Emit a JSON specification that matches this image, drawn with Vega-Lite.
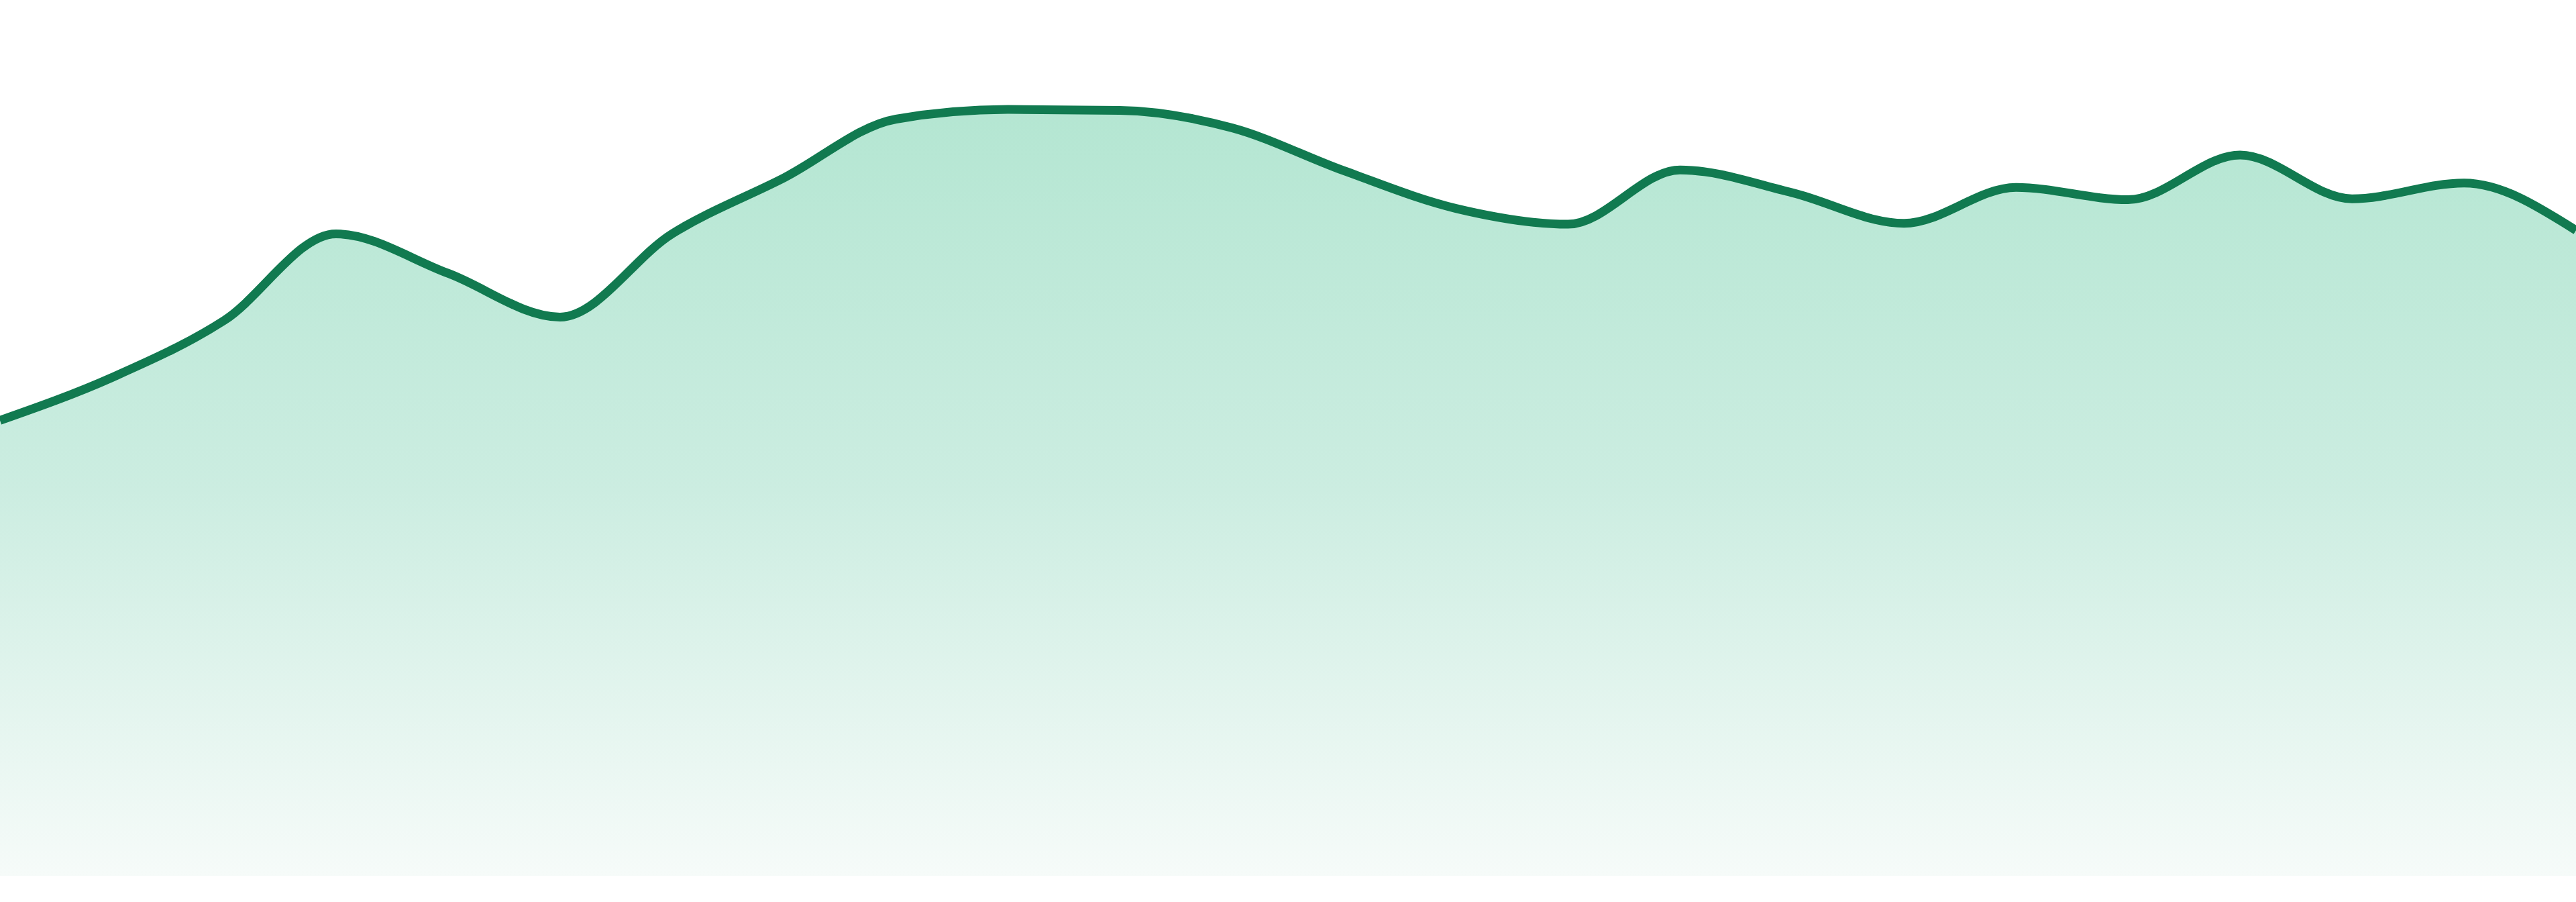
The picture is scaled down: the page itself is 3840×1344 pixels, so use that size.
{
  "$schema": "https://vega.github.io/schema/vega-lite/v6.json",
  "width": 3840,
  "height": 1344,
  "autosize": {"type": "none"},
  "padding": 0,
  "background": "#ffffff",
  "data": {
    "values": [
      {"i": 0, "v": 52.0},
      {"i": 1, "v": 56.9},
      {"i": 2, "v": 63.4},
      {"i": 3, "v": 73.3},
      {"i": 4, "v": 68.8},
      {"i": 5, "v": 63.8},
      {"i": 6, "v": 73.3},
      {"i": 7, "v": 79.7},
      {"i": 8, "v": 86.4},
      {"i": 9, "v": 87.5},
      {"i": 10, "v": 87.4},
      {"i": 11, "v": 85.4},
      {"i": 12, "v": 80.5},
      {"i": 13, "v": 76.2},
      {"i": 14, "v": 74.4},
      {"i": 15, "v": 80.6},
      {"i": 16, "v": 78.0},
      {"i": 17, "v": 74.5},
      {"i": 18, "v": 78.6},
      {"i": 19, "v": 77.2},
      {"i": 20, "v": 82.3},
      {"i": 21, "v": 77.3},
      {"i": 22, "v": 79.1},
      {"i": 23, "v": 73.7}
    ]
  },
  "encoding": {
    "x": {
      "field": "i",
      "type": "quantitative",
      "scale": {"domain": [0, 23], "nice": false, "zero": false},
      "axis": null
    },
    "y": {
      "field": "v",
      "type": "quantitative",
      "scale": {"domain": [-2.989, 100], "nice": false, "zero": false},
      "axis": null
    }
  },
  "layer": [
    {
      "mark": {
        "type": "area",
        "interpolate": "monotone",
        "color": {
          "gradient": "linear",
          "x1": 0, "y1": 0, "x2": 0, "y2": 1,
          "stops": [
            {"offset": 0, "color": "#b4e6d2"},
            {"offset": 0.5, "color": "#ccede1"},
            {"offset": 1, "color": "#f6fbf9"}
          ]
        }
      },
      "encoding": {
        "y2": {"datum": 0}
      }
    },
    {
      "mark": {
        "type": "line",
        "interpolate": "monotone",
        "color": "#117a50",
        "strokeWidth": 13
      }
    }
  ],
  "config": {
    "view": {"stroke": null}
  }
}
